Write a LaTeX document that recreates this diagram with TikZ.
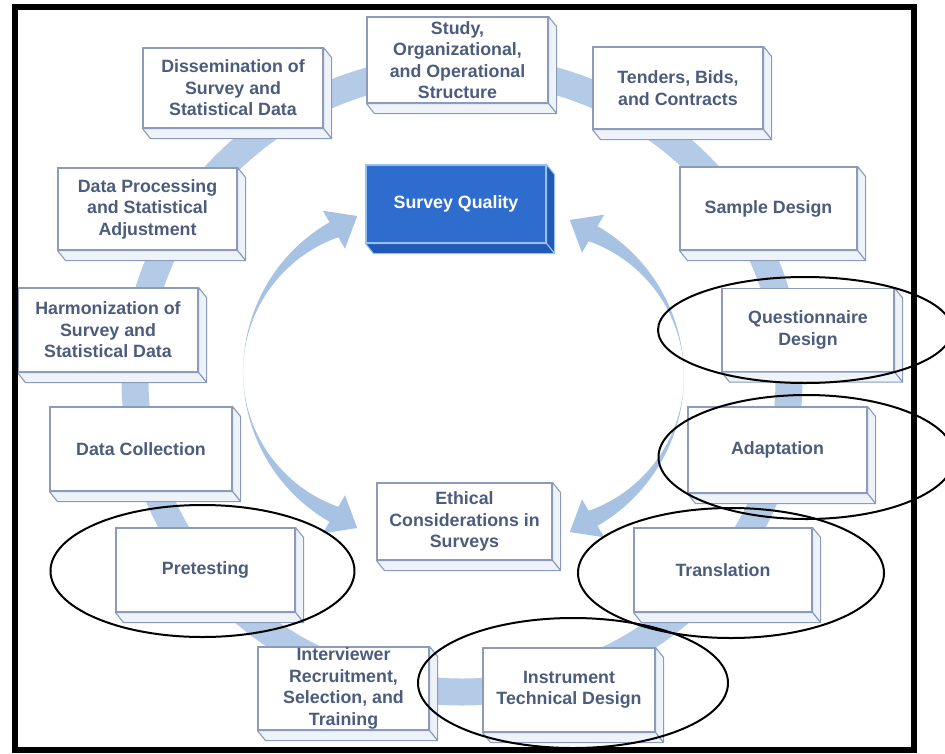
\documentclass[tikz,border=0pt]{standalone}
\usepackage{fontspec}
\setmainfont{Liberation Sans}
\usetikzlibrary{calc}
\definecolor{band}{RGB}{180,203,231}
\definecolor{arr}{RGB}{168,194,227}
\definecolor{edge}{RGB}{140,155,186}
\definecolor{txt}{RGB}{76,92,124}
\definecolor{sidef}{RGB}{238,242,249}
\definecolor{qblue}{RGB}{46,108,206}
\definecolor{qdark}{RGB}{34,88,182}
\definecolor{qline}{RGB}{150,192,242}
\tikzset{
  cube/.style={draw=edge, line width=1.1pt, fill=white, inner sep=0pt, align=center,
    text=txt, font=\bfseries\fontsize{17.8}{21.5}\selectfont},
  cubeside/.style={draw=edge, line width=1.1pt, fill=sidef, line join=round},
  qcube/.style={draw=qline, line width=1.1pt, fill=qblue, inner sep=0pt, align=center,
    text=white, font=\bfseries\fontsize{17.8}{21.5}\selectfont},
  qside/.style={draw=qline, line width=1.1pt, fill=qdark, line join=round},
  ring/.style={draw=band, line width=27pt},
  curvearrow/.style={fill=arr},
  mark ellipse/.style={draw=black, line width=2pt},
  frame/.style={draw=black, line width=6pt}
}
% name, cx, cy, w, h, text, front style, side style
\newcommand{\cubebox}[8]{%
  \node[#7, minimum width=#4, minimum height=#5] (#1) at (#2,#3) {#6};
  \filldraw[#8] (#1.north east) -- ++(8,10) -- ($(#1.south east)+(8,10)$) -- (#1.south east) -- cycle;
  \filldraw[#8] (#1.south west) -- (#1.south east) -- ($(#1.south east)+(8,10)$) -- ($(#1.south west)+(8,10)$) -- cycle;
}
\begin{document}
\begin{tikzpicture}[x=1pt,y=-1pt]
\useasboundingbox (0,0) rectangle (945,753);
\fill[white] (0,0) rectangle (945,753);
% ring
\draw[ring] (462,380) ellipse [x radius=327, y radius=312];
% inner curved arrows, left pair
\fill[curvearrow] (243,372) arc[start angle=180, end angle=240, radius=173]
  -- (322.8,210.7) -- (357.2,216) -- (345,248.7) -- (338.3,237.2)
  arc[start angle=250.5, end angle=180, radius=143] -- cycle;
\fill[curvearrow] (243,372) arc[start angle=180, end angle=120, radius=173]
  -- (322.8,533.3) -- (357.2,528) -- (345,495.3) -- (338.3,506.8)
  arc[start angle=109.5, end angle=180, radius=143] -- cycle;
% right pair (mirror)
\begin{scope}[shift={(927,4)}, xscale=-1]
\fill[curvearrow] (243,372) arc[start angle=180, end angle=240, radius=173]
  -- (322.8,210.7) -- (357.2,216) -- (345,248.7) -- (338.3,237.2)
  arc[start angle=250.5, end angle=180, radius=143] -- cycle;
\fill[curvearrow] (243,372) arc[start angle=180, end angle=120, radius=173]
  -- (322.8,533.3) -- (357.2,528) -- (345,495.3) -- (338.3,506.8)
  arc[start angle=109.5, end angle=180, radius=143] -- cycle;
\end{scope}
% boxes
\cubebox{study}{457.5}{60}{181}{86}{Study,\\Organizational,\\and Operational\\Structure}{cube}{cubeside}
\cubebox{tenders}{678}{88}{170}{82}{Tenders, Bids,\\and Contracts}{cube}{cubeside}
\cubebox{sample}{768.5}{208.5}{177}{83}{Sample Design}{cube}{cubeside}
\cubebox{quest}{808}{330}{172}{83}{Questionnaire\\Design}{cube}{cubeside}
\cubebox{adapt}{777.5}{450}{179}{86}{Adaptation}{cube}{cubeside}
\cubebox{transl}{723}{570}{178}{84}{Translation}{cube}{cubeside}
\cubebox{instr}{569}{690}{172}{84}{Instrument\\Technical Design}{cube}{cubeside}
\cubebox{interv}{343.5}{688.5}{171}{83}{Interviewer\\Recruitment,\\Selection, and\\Training}{cube}{cubeside}
\cubebox{pretest}{205.5}{570}{179}{84}{Pretesting}{cube}{cubeside}
\cubebox{collect}{141}{449}{182}{84}{Data Collection}{cube}{cubeside}
\cubebox{harmon}{108}{330}{180}{84}{Harmonization of\\Survey and\\Statistical Data}{cube}{cubeside}
\cubebox{process}{147.5}{209}{179}{82}{Data Processing\\and Statistical\\Adjustment}{cube}{cubeside}
\cubebox{dissem}{233}{88}{180}{80}{Dissemination of\\Survey and\\Statistical Data}{cube}{cubeside}
\cubebox{quality}{456}{204}{180}{78}{Survey Quality}{qcube}{qside}
\cubebox{ethic}{464.5}{521.5}{175}{77}{Ethical\\Considerations in\\Surveys}{cube}{cubeside}
% frame
\draw[frame] (15,7) rectangle (914,750);
% annotation ellipses
\draw[mark ellipse] (quest.center) ++(-3,0) ellipse [x radius=147, y radius=53];
\draw[mark ellipse] (adapt.center) ++(29,7) ellipse [x radius=148, y radius=62];
\draw[mark ellipse] (transl.center) ++(8,3) ellipse [x radius=153, y radius=65];
\draw[mark ellipse] (instr.center) ++(4,-7) ellipse [x radius=155, y radius=65];
\draw[mark ellipse] (pretest.center) ++(-3,1) ellipse [x radius=152, y radius=66];
\end{tikzpicture}
\end{document}
